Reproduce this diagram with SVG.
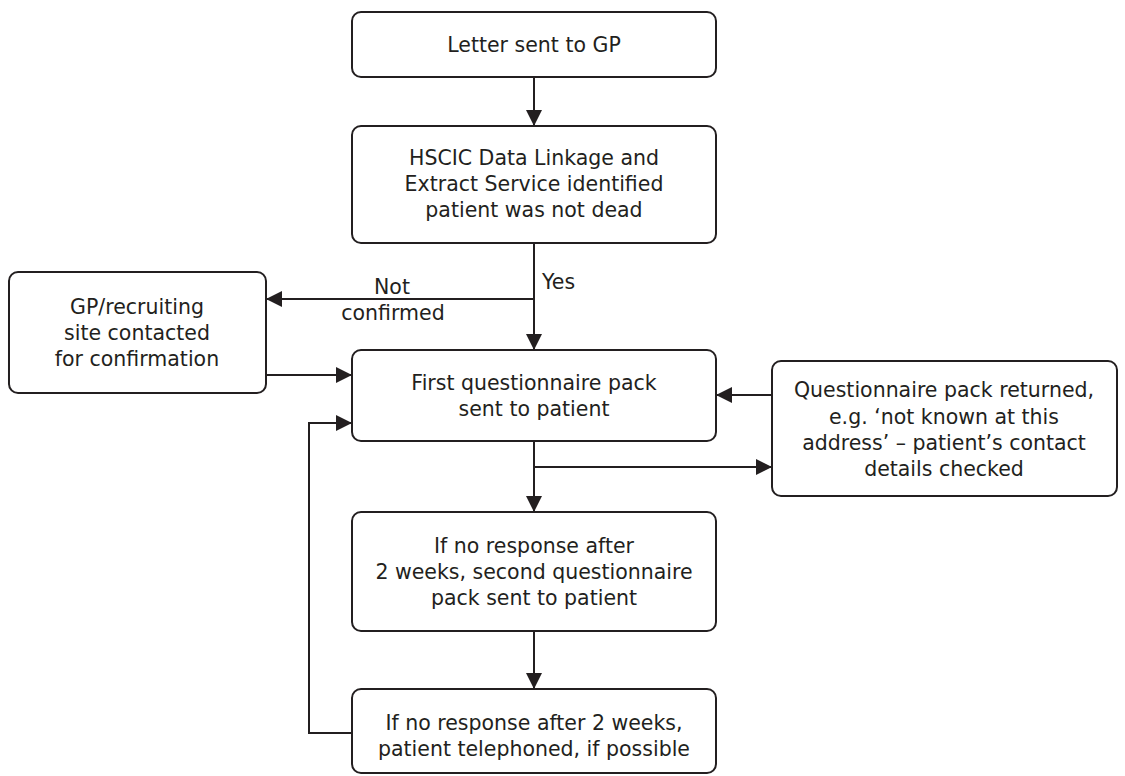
<svg xmlns="http://www.w3.org/2000/svg" width="1125" height="776" viewBox="0 0 1125 776">
<defs>
<marker id="ah" viewBox="0 0 16 16" markerWidth="16" markerHeight="16" refX="16" refY="8" orient="auto" markerUnits="userSpaceOnUse">
<path d="M0,0 L16,8 L0,16 z" fill="#231f20"/>
</marker>
<style>
.box{fill:#fff;stroke:#231f20;stroke-width:2}
.t{font-family:"DejaVu Sans","Open Sans",sans-serif;font-size:20.5px;fill:#231f20;text-anchor:middle}
.l{font-family:"DejaVu Sans","Open Sans",sans-serif;font-size:20.5px;fill:#231f20}
.ca{fill:none;stroke:#231f20;stroke-width:2;marker-end:url(#ah)}
</style>
</defs>
<rect width="1125" height="776" fill="#fff"/>
<g id="connectors">
<path class="ca" d="M534,77 V126"/>
<path class="ca" d="M534,243 V350"/>
<path class="ca" d="M534,299 H266"/>
<path class="ca" d="M266,375 H352"/>
<path class="ca" d="M352,733 H309 V423 H352"/>
<path class="ca" d="M772,395 H716"/>
<path class="ca" d="M534,441 V512"/>
<path class="ca" d="M534,467 H772"/>
<path class="ca" d="M534,631 V689"/>
<text class="t" x="392" y="294">Not</text>
<text class="t" x="393" y="320">confirmed</text>
<text class="l" x="542" y="289">Yes</text>
</g>
<g id="n1">
<rect class="box" x="352" y="12" width="364" height="65" rx="9"/>
<text class="t" x="534" y="52">Letter sent to GP</text>
</g>
<g id="n2">
<rect class="box" x="352" y="126" width="364" height="117" rx="9"/>
<text class="t" x="534" y="165">HSCIC Data Linkage and</text>
<text class="t" x="534" y="191">Extract Service identified</text>
<text class="t" x="534" y="217">patient was not dead</text>
</g>
<g id="n3">
<rect class="box" x="9" y="272" width="257" height="121" rx="9"/>
<text class="t" x="137" y="313.5">GP/recruiting</text>
<text class="t" x="137" y="339.5">site contacted</text>
<text class="t" x="137" y="365.5">for confirmation</text>
</g>
<g id="n4">
<rect class="box" x="352" y="350" width="364" height="91" rx="9"/>
<text class="t" x="534" y="389.5">First questionnaire pack</text>
<text class="t" x="534" y="415.5">sent to patient</text>
</g>
<g id="n5">
<rect class="box" x="772" y="361" width="345" height="135" rx="9"/>
<text class="t" x="944" y="397">Questionnaire pack returned,</text>
<text class="t" x="944" y="423.5">e.g. ‘not known at this</text>
<text class="t" x="944" y="450">address’ – patient’s contact</text>
<text class="t" x="944" y="476">details checked</text>
</g>
<g id="n6">
<rect class="box" x="352" y="512" width="364" height="119" rx="9"/>
<text class="t" x="534" y="552.5">If no response after</text>
<text class="t" x="534" y="578.5">2 weeks, second questionnaire</text>
<text class="t" x="534" y="604.5">pack sent to patient</text>
</g>
<g id="n7">
<rect class="box" x="352" y="689" width="364" height="84" rx="9"/>
<text class="t" x="534" y="729.5">If no response after 2 weeks,</text>
<text class="t" x="534" y="755.5">patient telephoned, if possible</text>
</g>
</svg>
